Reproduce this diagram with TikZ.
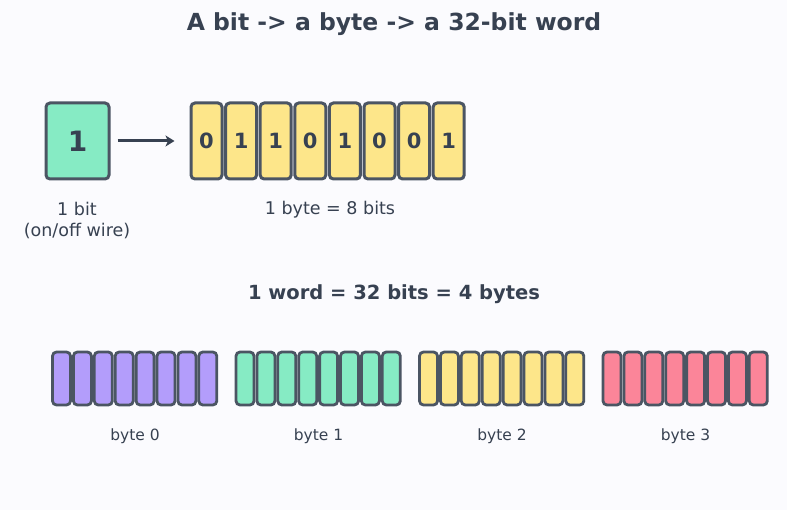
\documentclass[tikz,border=0pt]{standalone}
\usepackage{fontspec}
\setmainfont{DejaVu Sans}
\usetikzlibrary{positioning,arrows.meta,calc}
\definecolor{BgTint}{HTML}{FBFBFE}
\definecolor{InkDark}{HTML}{374151}
\definecolor{CellLine}{HTML}{4B5563}
\definecolor{BitGreen}{HTML}{86EBC4}
\definecolor{ByteYellow}{HTML}{FDE68A}
\definecolor{BytePurple}{HTML}{B39DFB}
\definecolor{BytePink}{HTML}{FB8599}

\begin{document}
\begin{tikzpicture}[
      x=1pt, y=-1pt,
      cell/.style={
        draw=CellLine, rounded corners=4pt, line width=3pt,
        inner sep=0pt, minimum height=76pt, minimum width=31pt,
        fill=ByteYellow, font=\fontsize{21}{25}\selectfont\bfseries, text=InkDark
      },
      slot/.style={
        draw=CellLine, rounded corners=4pt, line width=2.8pt,
        inner sep=0pt, minimum height=53pt, minimum width=18pt
      },
      lbl/.style={font=\fontsize{17.5}{21}\selectfont, text=InkDark, align=center},
      arr/.style={-{Stealth[length=9pt,width=11pt,inset=2.5pt]}, line width=3pt, color=InkDark}
    ]
      \fill[BgTint] (0,0) rectangle (787,510);
      \useasboundingbox (0,0) rectangle (787,510);
      % title
      \node[font=\fontsize{23.5}{28}\selectfont\bfseries, text=InkDark] (title) at (394,24) {A bit -> a byte -> a 32-bit word};
      % one bit
      \node[cell, fill=BitGreen, minimum width=63pt, font=\fontsize{28}{32}\selectfont\bfseries] (bit) at (77.5,141) {1};
      \node[lbl] (bitlbl) at (77,221) {1 bit\\(on/off wire)};
      % one byte
      \foreach \v [count=\i from 0] in {0,1,1,0,1,0,0,1}
        \node[cell] (b\i) at ({206.5+34.6*\i},141) {\v};
      \node[lbl] (bytelbl) at (330,210) {1 byte = 8 bits};
      \draw[arr, shorten <=7pt, shorten >=15pt] (bit.east) -- (b0.west);
      % one word
      \node[font=\fontsize{19.5}{23}\selectfont\bfseries, text=InkDark] (wordlbl) at (394,294) {1 word = 32 bits = 4 bytes};
      \foreach \c [count=\g from 0] in {BytePurple,BitGreen,ByteYellow,BytePink} {
        \foreach \k in {0,...,7}
          \node[slot, fill=\c] (w\g-\k) at ({61.5+183.5*\g+20.9*\k},378.5) {};
        \node[font=\fontsize{15.5}{18}\selectfont, text=InkDark] (wl\g) at ({135+183.5*\g},436) {byte \g};
      }
    \end{tikzpicture}
\end{document}
